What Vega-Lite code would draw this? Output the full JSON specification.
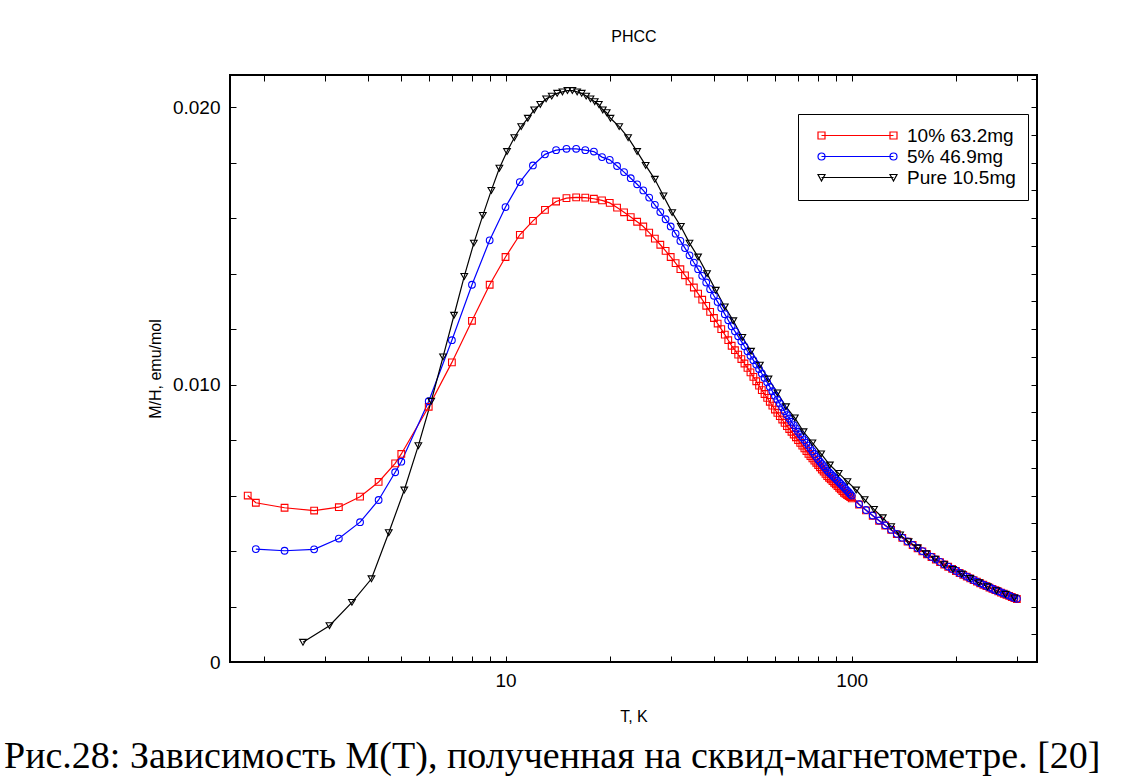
{
  "$schema": "https://vega.github.io/schema/vega-lite/v6.json",
  "width": 807,
  "height": 587,
  "autosize": {"type": "none"},
  "padding": {"left": 230, "top": 75, "right": 105, "bottom": 120},
  "background": "white",
  "title": {"text": "Рис.28: Зависимость M(T), полученная на сквид-магнетометре. [20]", "orient": "bottom", "anchor": "start", "frame": "group", "font": "Liberation Serif", "fontSize": 38, "fontWeight": "normal", "color": "black", "offset": 14, "dx": -226},
  "config": {"view": {"stroke": "black", "strokeWidth": 2}, "font": "Liberation Sans"},
  "data": {"values": [
    {"g":"a","T":1.8,"M":0.0060},{"g":"a","T":1.9,"M":0.00574},{"g":"a","T":2.3,"M":0.00556},{"g":"a","T":2.8,"M":0.00546},{"g":"a","T":3.3,"M":0.00558},{"g":"a","T":3.8,"M":0.00596},{"g":"a","T":4.3,"M":0.00649},{"g":"a","T":4.8,"M":0.00716},{"g":"a","T":5,"M":0.0075},
    {"g":"a","T":6,"M":0.0092},{"g":"a","T":7,"M":0.0108},{"g":"a","T":8,"M":0.0123},{"g":"a","T":9,"M":0.0136},{"g":"a","T":10,"M":0.0146},{"g":"a","T":11,"M":0.0154},{"g":"a","T":12,"M":0.0159},{"g":"a","T":13,"M":0.0163},{"g":"a","T":14,"M":0.0166},{"g":"a","T":15,"M":0.01672},{"g":"a","T":16,"M":0.01675},{"g":"a","T":17,"M":0.01674},{"g":"a","T":18,"M":0.0167},{"g":"a","T":19,"M":0.01664},{"g":"a","T":20,"M":0.01655},
    {"g":"a","T":21,"M":0.01638},{"g":"a","T":22,"M":0.01621},{"g":"a","T":23,"M":0.01604},{"g":"a","T":24,"M":0.01587},{"g":"a","T":25,"M":0.0157},{"g":"a","T":26,"M":0.01548},{"g":"a","T":27,"M":0.01526},{"g":"a","T":28,"M":0.01504},{"g":"a","T":29,"M":0.01482},{"g":"a","T":30,"M":0.0146},
    {"g":"a","T":31,"M":0.01438},{"g":"a","T":32,"M":0.01416},{"g":"a","T":33,"M":0.01394},{"g":"a","T":34,"M":0.01372},{"g":"a","T":35,"M":0.0135},{"g":"a","T":36,"M":0.01328},{"g":"a","T":37,"M":0.01306},{"g":"a","T":38,"M":0.01284},{"g":"a","T":39,"M":0.01262},{"g":"a","T":40,"M":0.0124},
    {"g":"a","T":41,"M":0.0122},{"g":"a","T":42,"M":0.012},{"g":"a","T":43,"M":0.0118},{"g":"a","T":44,"M":0.0116},{"g":"a","T":45,"M":0.0114},{"g":"a","T":46,"M":0.01124},{"g":"a","T":47,"M":0.01108},{"g":"a","T":48,"M":0.01092},{"g":"a","T":49,"M":0.01076},{"g":"a","T":50,"M":0.0106},
    {"g":"a","T":51,"M":0.01044},{"g":"a","T":52,"M":0.01028},{"g":"a","T":53,"M":0.01012},{"g":"a","T":54,"M":0.00996},{"g":"a","T":55,"M":0.0098},{"g":"a","T":56,"M":0.00966},{"g":"a","T":57,"M":0.00952},{"g":"a","T":58,"M":0.00938},{"g":"a","T":59,"M":0.00924},{"g":"a","T":60,"M":0.0091},
    {"g":"a","T":61,"M":0.00898},{"g":"a","T":62,"M":0.00886},{"g":"a","T":63,"M":0.00874},{"g":"a","T":64,"M":0.00862},{"g":"a","T":65,"M":0.0085},{"g":"a","T":66,"M":0.0084},{"g":"a","T":67,"M":0.0083},{"g":"a","T":68,"M":0.0082},{"g":"a","T":69,"M":0.0081},{"g":"a","T":70,"M":0.0080},
    {"g":"a","T":71,"M":0.0079},{"g":"a","T":72,"M":0.0078},{"g":"a","T":73,"M":0.0077},{"g":"a","T":74,"M":0.0076},{"g":"a","T":75,"M":0.0075},{"g":"a","T":76,"M":0.00742},{"g":"a","T":77,"M":0.00734},{"g":"a","T":78,"M":0.00726},{"g":"a","T":79,"M":0.00718},{"g":"a","T":80,"M":0.0071},
    {"g":"a","T":81,"M":0.00702},{"g":"a","T":82,"M":0.00694},{"g":"a","T":83,"M":0.00686},{"g":"a","T":84,"M":0.00678},{"g":"a","T":85,"M":0.0067},{"g":"a","T":86,"M":0.00664},{"g":"a","T":87,"M":0.00658},{"g":"a","T":88,"M":0.00652},{"g":"a","T":89,"M":0.00646},{"g":"a","T":90,"M":0.0064},
    {"g":"a","T":91,"M":0.00634},{"g":"a","T":92,"M":0.00628},{"g":"a","T":93,"M":0.00622},{"g":"a","T":94,"M":0.00616},{"g":"a","T":95,"M":0.0061},{"g":"a","T":96,"M":0.00606},{"g":"a","T":97,"M":0.00602},{"g":"a","T":98,"M":0.00598},{"g":"a","T":99,"M":0.00594},{"g":"a","T":100,"M":0.0059},
    {"g":"a","T":105,"M":0.005677},{"g":"a","T":110,"M":0.005467},{"g":"a","T":115,"M":0.005271},{"g":"a","T":120,"M":0.00509},{"g":"a","T":125,"M":0.00492},{"g":"a","T":130,"M":0.004761},{"g":"a","T":135,"M":0.004613},{"g":"a","T":140,"M":0.004473},{"g":"a","T":145,"M":0.004341},{"g":"a","T":150,"M":0.004217},
    {"g":"a","T":155,"M":0.0041},{"g":"a","T":160,"M":0.003989},{"g":"a","T":165,"M":0.003884},{"g":"a","T":170,"M":0.003785},{"g":"a","T":175,"M":0.00369},{"g":"a","T":180,"M":0.0036},{"g":"a","T":185,"M":0.003514},{"g":"a","T":190,"M":0.003433},{"g":"a","T":195,"M":0.003355},{"g":"a","T":200,"M":0.00328},
    {"g":"a","T":205,"M":0.003209},{"g":"a","T":210,"M":0.00314},{"g":"a","T":215,"M":0.003075},{"g":"a","T":220,"M":0.003012},{"g":"a","T":225,"M":0.002952},{"g":"a","T":230,"M":0.002894},{"g":"a","T":235,"M":0.002838},{"g":"a","T":240,"M":0.002785},{"g":"a","T":245,"M":0.002733},{"g":"a","T":250,"M":0.002684},
    {"g":"a","T":255,"M":0.002636},{"g":"a","T":260,"M":0.002589},{"g":"a","T":265,"M":0.002545},{"g":"a","T":270,"M":0.002502},{"g":"a","T":275,"M":0.00246},{"g":"a","T":280,"M":0.00242},{"g":"a","T":285,"M":0.002381},{"g":"a","T":290,"M":0.002343},{"g":"a","T":295,"M":0.002306},{"g":"a","T":300,"M":0.002271},
    {"g":"b","T":1.9,"M":0.00407},{"g":"b","T":2.3,"M":0.00401},{"g":"b","T":2.8,"M":0.00406},{"g":"b","T":3.3,"M":0.00445},{"g":"b","T":3.8,"M":0.00504},{"g":"b","T":4.3,"M":0.00584},{"g":"b","T":4.8,"M":0.00684},{"g":"b","T":5,"M":0.00722},
    {"g":"b","T":6,"M":0.0094},{"g":"b","T":7,"M":0.0116},{"g":"b","T":8,"M":0.0136},{"g":"b","T":9,"M":0.0152},{"g":"b","T":10,"M":0.0164},{"g":"b","T":11,"M":0.0173},{"g":"b","T":12,"M":0.0179},{"g":"b","T":13,"M":0.0183},{"g":"b","T":14,"M":0.01845},{"g":"b","T":15,"M":0.0185},{"g":"b","T":16,"M":0.0185},{"g":"b","T":17,"M":0.01845},{"g":"b","T":18,"M":0.0184},{"g":"b","T":19,"M":0.0182},{"g":"b","T":20,"M":0.0181},
    {"g":"b","T":21,"M":0.01788},{"g":"b","T":22,"M":0.01766},{"g":"b","T":23,"M":0.01744},{"g":"b","T":24,"M":0.01722},{"g":"b","T":25,"M":0.0170},{"g":"b","T":26,"M":0.01674},{"g":"b","T":27,"M":0.01648},{"g":"b","T":28,"M":0.01622},{"g":"b","T":29,"M":0.01596},{"g":"b","T":30,"M":0.0157},
    {"g":"b","T":31,"M":0.01544},{"g":"b","T":32,"M":0.01518},{"g":"b","T":33,"M":0.01492},{"g":"b","T":34,"M":0.01466},{"g":"b","T":35,"M":0.0144},{"g":"b","T":36,"M":0.01416},{"g":"b","T":37,"M":0.01392},{"g":"b","T":38,"M":0.01368},{"g":"b","T":39,"M":0.01344},{"g":"b","T":40,"M":0.0132},
    {"g":"b","T":41,"M":0.01298},{"g":"b","T":42,"M":0.01276},{"g":"b","T":43,"M":0.01254},{"g":"b","T":44,"M":0.01232},{"g":"b","T":45,"M":0.0121},{"g":"b","T":46,"M":0.01192},{"g":"b","T":47,"M":0.01174},{"g":"b","T":48,"M":0.01156},{"g":"b","T":49,"M":0.01138},{"g":"b","T":50,"M":0.0112},
    {"g":"b","T":51,"M":0.01104},{"g":"b","T":52,"M":0.01088},{"g":"b","T":53,"M":0.01072},{"g":"b","T":54,"M":0.01056},{"g":"b","T":55,"M":0.0104},{"g":"b","T":56,"M":0.01024},{"g":"b","T":57,"M":0.01008},{"g":"b","T":58,"M":0.00992},{"g":"b","T":59,"M":0.00976},{"g":"b","T":60,"M":0.0096},
    {"g":"b","T":61,"M":0.00946},{"g":"b","T":62,"M":0.00932},{"g":"b","T":63,"M":0.00918},{"g":"b","T":64,"M":0.00904},{"g":"b","T":65,"M":0.0089},{"g":"b","T":66,"M":0.00878},{"g":"b","T":67,"M":0.00866},{"g":"b","T":68,"M":0.00854},{"g":"b","T":69,"M":0.00842},{"g":"b","T":70,"M":0.0083},
    {"g":"b","T":71,"M":0.0082},{"g":"b","T":72,"M":0.0081},{"g":"b","T":73,"M":0.0080},{"g":"b","T":74,"M":0.0079},{"g":"b","T":75,"M":0.0078},{"g":"b","T":76,"M":0.0077},{"g":"b","T":77,"M":0.0076},{"g":"b","T":78,"M":0.0075},{"g":"b","T":79,"M":0.0074},{"g":"b","T":80,"M":0.0073},
    {"g":"b","T":81,"M":0.00722},{"g":"b","T":82,"M":0.00714},{"g":"b","T":83,"M":0.00706},{"g":"b","T":84,"M":0.00698},{"g":"b","T":85,"M":0.0069},{"g":"b","T":86,"M":0.00684},{"g":"b","T":87,"M":0.00678},{"g":"b","T":88,"M":0.00672},{"g":"b","T":89,"M":0.00666},{"g":"b","T":90,"M":0.0066},
    {"g":"b","T":91,"M":0.00654},{"g":"b","T":92,"M":0.00648},{"g":"b","T":93,"M":0.00642},{"g":"b","T":94,"M":0.00636},{"g":"b","T":95,"M":0.0063},{"g":"b","T":96,"M":0.00624},{"g":"b","T":97,"M":0.00618},{"g":"b","T":98,"M":0.00612},{"g":"b","T":99,"M":0.00606},{"g":"b","T":100,"M":0.0060},
    {"g":"b","T":105,"M":0.00569},{"g":"b","T":110,"M":0.00548},{"g":"b","T":115,"M":0.00528},{"g":"b","T":120,"M":0.0051},{"g":"b","T":125,"M":0.00493},{"g":"b","T":130,"M":0.00477},{"g":"b","T":135,"M":0.00462},{"g":"b","T":140,"M":0.00448},{"g":"b","T":145,"M":0.00435},{"g":"b","T":150,"M":0.00422},
    {"g":"b","T":155,"M":0.00411},{"g":"b","T":160,"M":0.004},{"g":"b","T":165,"M":0.00389},{"g":"b","T":170,"M":0.00379},{"g":"b","T":175,"M":0.0037},{"g":"b","T":180,"M":0.00361},{"g":"b","T":185,"M":0.00352},{"g":"b","T":190,"M":0.00344},{"g":"b","T":195,"M":0.00336},{"g":"b","T":200,"M":0.00329},
    {"g":"b","T":205,"M":0.00321},{"g":"b","T":210,"M":0.00315},{"g":"b","T":215,"M":0.00308},{"g":"b","T":220,"M":0.00302},{"g":"b","T":225,"M":0.00296},{"g":"b","T":230,"M":0.0029},{"g":"b","T":235,"M":0.00284},{"g":"b","T":240,"M":0.00279},{"g":"b","T":245,"M":0.00274},{"g":"b","T":250,"M":0.00269},
    {"g":"b","T":255,"M":0.00264},{"g":"b","T":260,"M":0.00259},{"g":"b","T":265,"M":0.00255},{"g":"b","T":270,"M":0.00251},{"g":"b","T":275,"M":0.00247},{"g":"b","T":280,"M":0.00243},{"g":"b","T":285,"M":0.00239},{"g":"b","T":290,"M":0.00235},{"g":"b","T":295,"M":0.00231},{"g":"b","T":300,"M":0.00228},
    {"g":"c","T":2.6,"M":0.00071},{"g":"c","T":3.1,"M":0.00131},{"g":"c","T":3.6,"M":0.00215},{"g":"c","T":4.1,"M":0.0030},{"g":"c","T":4.6,"M":0.00466},{"g":"c","T":5.1,"M":0.0062},{"g":"c","T":5.6,"M":0.0078},{"g":"c","T":6.1,"M":0.0094},{"g":"c","T":6.6,"M":0.0110},{"g":"c","T":7.1,"M":0.0125},
    {"g":"c","T":7.6,"M":0.0139},{"g":"c","T":8.1,"M":0.0151},{"g":"c","T":8.6,"M":0.0161},{"g":"c","T":9.1,"M":0.0170},{"g":"c","T":9.6,"M":0.0178},{"g":"c","T":10.1,"M":0.0184},{"g":"c","T":10.6,"M":0.0189},{"g":"c","T":11.1,"M":0.0193},{"g":"c","T":11.6,"M":0.0196},{"g":"c","T":12.1,"M":0.0199},
    {"g":"c","T":12.6,"M":0.0201},{"g":"c","T":13.1,"M":0.0203},{"g":"c","T":13.6,"M":0.0204},{"g":"c","T":14.1,"M":0.0205},{"g":"c","T":14.6,"M":0.02055},{"g":"c","T":15.1,"M":0.0206},{"g":"c","T":15.6,"M":0.0206},{"g":"c","T":16.1,"M":0.02055},{"g":"c","T":16.6,"M":0.0205},{"g":"c","T":17.1,"M":0.0204},
    {"g":"c","T":17.6,"M":0.0203},{"g":"c","T":18.1,"M":0.0202},{"g":"c","T":18.6,"M":0.0201},{"g":"c","T":19.1,"M":0.0199},{"g":"c","T":19.6,"M":0.0198},{"g":"c","T":20.1,"M":0.0196},{"g":"c","T":21.3,"M":0.0193},{"g":"c","T":22.6,"M":0.0189},{"g":"c","T":24,"M":0.0184},{"g":"c","T":25.4,"M":0.0179},
    {"g":"c","T":27,"M":0.0174},{"g":"c","T":28.6,"M":0.0168},{"g":"c","T":30.3,"M":0.0162},{"g":"c","T":32.1,"M":0.0157},{"g":"c","T":34,"M":0.0151},{"g":"c","T":36,"M":0.0146},{"g":"c","T":38.2,"M":0.0140},{"g":"c","T":40.5,"M":0.0134},{"g":"c","T":43,"M":0.0128},{"g":"c","T":45.5,"M":0.0123},
    {"g":"c","T":48.3,"M":0.0117},{"g":"c","T":51.2,"M":0.0112},{"g":"c","T":54.3,"M":0.0107},{"g":"c","T":57.5,"M":0.0102},{"g":"c","T":61,"M":0.0097},{"g":"c","T":64.6,"M":0.0092},{"g":"c","T":68.5,"M":0.0088},{"g":"c","T":72.6,"M":0.0083},{"g":"c","T":77,"M":0.0079},{"g":"c","T":81.6,"M":0.0075},
    {"g":"c","T":86.5,"M":0.0071},{"g":"c","T":91.7,"M":0.0068},{"g":"c","T":97.2,"M":0.0065},{"g":"c","T":103,"M":0.0062},{"g":"c","T":109,"M":0.00585},{"g":"c","T":116,"M":0.0055},{"g":"c","T":123,"M":0.0052},{"g":"c","T":130,"M":0.00488},{"g":"c","T":138,"M":0.00458},{"g":"c","T":146,"M":0.00434},
    {"g":"c","T":155,"M":0.00411},{"g":"c","T":164,"M":0.0039},{"g":"c","T":174,"M":0.00371},{"g":"c","T":185,"M":0.00351},{"g":"c","T":196,"M":0.00334},{"g":"c","T":208,"M":0.00317},{"g":"c","T":220,"M":0.00301},{"g":"c","T":233,"M":0.00286},{"g":"c","T":247,"M":0.00271},{"g":"c","T":262,"M":0.00257},
    {"g":"c","T":278,"M":0.00244},{"g":"c","T":295,"M":0.00231}
  ]},
  "layer": [
    {
      "layer": [
        {
          "mark": {"type": "line", "strokeWidth": 1.2},
          "encoding": {
            "x": {"field": "T", "type": "quantitative", "scale": {"type": "log", "domain": [1.6, 343], "nice": false},
                  "axis": {"orient": "bottom", "title": "T, K", "titleFont": "Liberation Sans", "titleFontSize": 16, "titleFontWeight": "normal", "titleColor": "black", "titlePadding": 18,
                           "values": [2,3,4,5,6,7,8,9,10,20,30,40,50,60,70,80,90,100,200,300],
                           "labelExpr": "(datum.value == 10 || datum.value == 100) ? format(datum.value, 'd') : ''",
                           "labelFont": "Liberation Sans", "labelFontSize": 19, "labelColor": "black", "labelPadding": 15, "labelFlush": false, "labelOverlap": false,
                           "tickSize": -6, "tickColor": "black", "tickWidth": 1, "domain": false, "grid": false}},
            "y": {"field": "M", "type": "quantitative", "scale": {"domain": [0, 0.02116], "nice": false, "zero": false},
                  "axis": {"orient": "left", "title": "M/H, emu/mol", "titleFont": "Liberation Sans", "titleFontSize": 16, "titleFontWeight": "normal", "titleColor": "black", "titlePadding": 9,
                           "values": [0,0.001,0.002,0.003,0.004,0.005,0.006,0.007,0.008,0.009,0.010,0.011,0.012,0.013,0.014,0.015,0.016,0.017,0.018,0.019,0.020,0.021],
                           "labelExpr": "datum.value == 0 ? '0' : (abs(round(datum.value * 1000)) % 5 == 0 ? format(datum.value, '.3f') : '')",
                           "labelFont": "Liberation Sans", "labelFontSize": 19, "labelColor": "black", "labelPadding": 16, "labelFlush": false, "labelOverlap": false,
                           "tickSize": -6, "tickColor": "black", "tickWidth": 1, "domain": false, "grid": false}},
            "color": {"field": "g", "type": "nominal", "scale": {"domain": ["a","b","c"], "range": ["#ff0000","#0000ff","#000000"]}, "legend": null}
          }
        },
        {
          "mark": {"type": "point", "filled": false, "size": 45, "strokeWidth": 1.1, "opacity": 1},
          "encoding": {
            "x": {"field": "T", "type": "quantitative"},
            "y": {"field": "M", "type": "quantitative"},
            "color": {"field": "g", "type": "nominal", "legend": null},
            "shape": {"field": "g", "type": "nominal", "scale": {"domain": ["a","b","c"], "range": ["square","circle","triangle-down"]}, "legend": null}
          }
        }
      ]
    },
    {
      "mark": {"type": "point", "opacity": 0, "filled": false, "size": 4},
      "encoding": {
        "x": {"field": "T", "type": "quantitative",
              "axis": {"orient": "top", "title": "PHCC", "titleFont": "Liberation Sans", "titleFontSize": 16, "titleFontWeight": "normal", "titleColor": "black", "titlePadding": 30,
                       "values": [2,3,4,5,6,7,8,9,10,20,30,40,50,60,70,80,90,100,200,300],
                       "labels": false, "tickSize": -6, "tickColor": "black", "tickWidth": 1, "domain": false, "grid": false}},
        "y": {"field": "M", "type": "quantitative",
              "axis": {"orient": "right", "title": null,
                       "values": [0,0.001,0.002,0.003,0.004,0.005,0.006,0.007,0.008,0.009,0.010,0.011,0.012,0.013,0.014,0.015,0.016,0.017,0.018,0.019,0.020,0.021],
                       "labels": false, "tickSize": -6, "tickColor": "black", "tickWidth": 1, "domain": false, "grid": false}},
        "color": {"field": "g", "type": "nominal", "scale": {"domain": ["a","b","c"], "range": ["#ff0000","#0000ff","#000000"]},
                  "legend": {"title": null, "orient": "none", "legendX": 568, "legendY": 39, "direction": "vertical",
                             "strokeColor": "black", "fillColor": "white", "padding": 12,
                             "labelFont": "Liberation Sans", "labelFontSize": 19, "labelColor": "black",
                             "symbolSize": 4, "symbolStrokeWidth": 1.2, "symbolOpacity": 1, "labelOffset": 78, "rowPadding": 1,
                             "labelExpr": "datum.value == 'a' ? '10% 63.2mg' : (datum.value == 'b' ? '5% 46.9mg' : 'Pure 10.5mg')"}},
        "shape": {"field": "g", "type": "nominal",
                  "scale": {"domain": ["a","b","c"], "range": [
                    "M2,0H74M-1.5,-3.5h7v7h-7zM70.5,-3.5h7v7h-7z",
                    "M2,0H74M-1.5,0a3.5,3.5 0 1,0 7,0a3.5,3.5 0 1,0 -7,0M70.5,0a3.5,3.5 0 1,0 7,0a3.5,3.5 0 1,0 -7,0",
                    "M2,0H74M-1.5,-3L5.5,-3L2,3.5ZM70.5,-3L77.5,-3L74,3.5Z"]},
                  "legend": {"title": null, "orient": "none", "legendX": 568, "legendY": 39, "direction": "vertical",
                             "strokeColor": "black", "fillColor": "white", "padding": 12,
                             "labelFont": "Liberation Sans", "labelFontSize": 19, "labelColor": "black",
                             "symbolSize": 4, "symbolStrokeWidth": 1.2, "symbolOpacity": 1, "labelOffset": 78, "rowPadding": 1,
                             "labelExpr": "datum.value == 'a' ? '10% 63.2mg' : (datum.value == 'b' ? '5% 46.9mg' : 'Pure 10.5mg')"}}
      }
    }
  ],
  "resolve": {"axis": {"x": "independent", "y": "independent"}, "scale": {"shape": "independent", "color": "independent"}}
}
